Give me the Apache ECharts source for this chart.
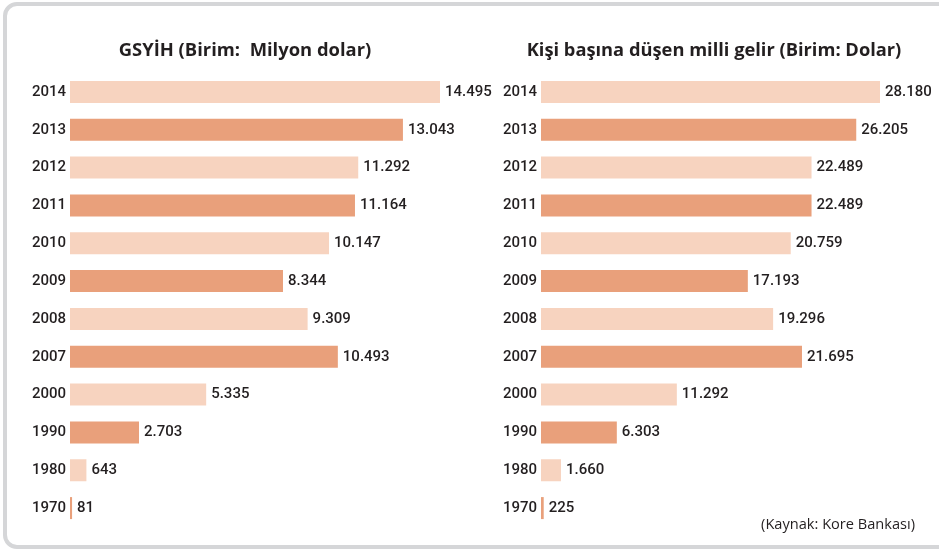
<!DOCTYPE html>
<html>
<head>
<meta charset="utf-8">
<script src="https://cdn.jsdelivr.net/npm/echarts@6/dist/echarts.min.js"></script>
<style>
html,body{margin:0;padding:0;background:#fff;}
#main{width:939px;height:550px;}
</style>
</head>
<body>
<div id="main"></div>
<script>
var years = ['2014','2013','2012','2011','2010','2009','2008','2007','2000','1990','1980','1970'];
var gsyih = [14495, 13043, 11292, 11164, 10147, 8344, 9309, 10493, 5335, 2703, 643, 81];
var kisiBasina = [28180, 26205, 22489, 22489, 20759, 17193, 19296, 21695, 11292, 6303, 1660, 225];

var light = '#f7d3bf', dark = '#e9a07b';

function fmt(v){
    return String(v).replace(/\B(?=(\d{3})+(?!\d))/g, '.');
}

var chart = echarts.init(document.getElementById('main'));

var yAx = function(idx){
    return {
        type: 'category',
        gridIndex: idx,
        data: years,
        inverse: true,
        axisLine: {show: false},
        axisTick: {show: false},
        axisLabel: {
            margin: 4,
            color: '#231f20',
            fontFamily: 'Roboto',
            fontWeight: 500,
            fontSize: 15
        }
    };
};
var xAx = function(idx){
    return {
        type: 'value',
        gridIndex: idx,
        min: 0,
        max: 'dataMax',
        show: false
    };
};
var ser = function(idx, data){
    return {
        type: 'bar',
        xAxisIndex: idx,
        yAxisIndex: idx,
        data: data,
        barWidth: 22,
        itemStyle: {
            color: function(p){ return p.dataIndex % 2 === 0 ? light : dark; }
        },
        label: {
            show: true,
            position: 'right',
            distance: 5,
            color: '#231f20',
            fontFamily: 'Roboto',
            fontWeight: 500,
            fontSize: 15,
            formatter: function(p){ return fmt(p.value); }
        },
        silent: true
    };
};

var option = {
    animation: false,
    title: [
        {
            text: 'GSYİH (Birim:  Milyon dolar)',
            left: 240, top: 37, textAlign: 'center',
            textStyle: {fontFamily: 'Open Sans', fontWeight: 'bold', fontSize: 18.4, color: '#231f20'}
        },
        {
            text: 'Kişi başına düşen milli gelir (Birim: Dolar)',
            left: 709, top: 37, textAlign: 'center',
            textStyle: {fontFamily: 'Open Sans', fontWeight: 'bold', fontSize: 18.3, color: '#231f20'}
        },
        {
            text: '(Kaynak: Kore Bankası)',
            right: 19, top: 512,
            textStyle: {fontFamily: 'Open Sans', fontWeight: 'normal', fontSize: 14.6, color: '#231f20'}
        }
    ],
    graphic: [{
        type: 'rect',
        shape: {x: 5, y: 4, width: 960, height: 543, r: 12},
        style: {fill: 'none', stroke: '#d5d6d8', lineWidth: 4},
        silent: true,
        z: -1
    }],
    grid: [
        {left: 70, top: 73, width: 370, height: 454},
        {left: 541, top: 73, width: 339, height: 454}
    ],
    xAxis: [xAx(0), xAx(1)],
    yAxis: [yAx(0), yAx(1)],
    series: [ser(0, gsyih), ser(1, kisiBasina)]
};

chart.setOption(option);
</script>
</body>
</html>
